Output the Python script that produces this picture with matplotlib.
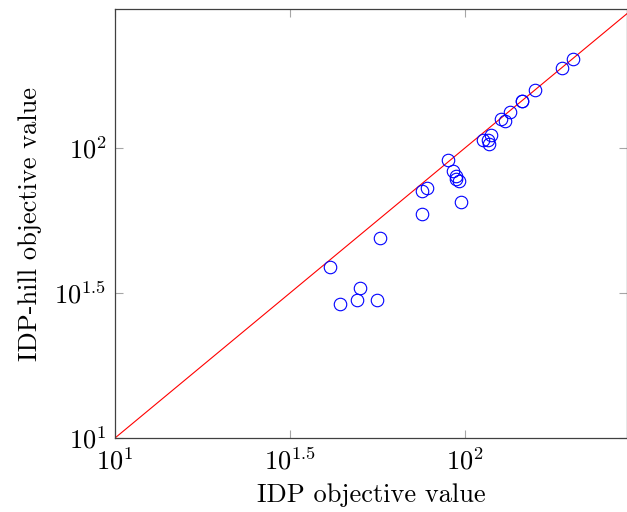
import matplotlib
matplotlib.use('Agg')
import matplotlib.pyplot as plt
import numpy as np

plt.rcParams['font.family'] = 'cmr10'
plt.rcParams['mathtext.fontset'] = 'cm'
plt.rcParams['axes.formatter.use_mathtext'] = True

# IDP objective value vs IDP-hill objective value
idp = [203, 189, 158.8, 145.5, 145.8, 134.5, 126.7, 130, 118.3, 112.7, 116.6, 117.4,
       89.2, 92.2, 94.2, 94.1, 96.3, 75.2, 78, 97.2, 75.2,
       57, 41.1, 50.1, 49.0, 44.0, 56.1]
idp_hill = [203, 189, 158.5, 145.2, 145.6, 133.4, 125.6, 124.2, 110.6, 106.6, 106.6, 103.2,
            90.9, 83.1, 80.3, 78.2, 77.1, 71.1, 73, 65, 59,
            48.8, 38.9, 32.9, 29.9, 28.9, 29.9]

tick_vals = [10, 10 ** 1.5, 100]
tick_labels = [r'$10^{1}$', r'$10^{1.5}$', r'$10^{2}$']

fig = plt.figure(figsize=(6.27, 5.12), dpi=100)
ax = fig.add_axes([0.1834, 0.1445, 0.8166, 0.8379])

# diagonal y = x
diag = np.array([10, 300])
ax.plot(diag, diag, color='red', lw=0.8)

ax.plot(idp, idp_hill, linestyle='none', marker='o', markersize=9,
        markerfacecolor='none', markeredgecolor='blue', markeredgewidth=0.8)

ax.set_xscale('log')
ax.set_yscale('log')
ax.set_xlim(10, 10 ** 2.463)
ax.set_ylim(10, 10 ** 2.479)

ax.set_xticks(tick_vals)
ax.set_xticklabels(tick_labels)
ax.set_yticks(tick_vals)
ax.set_yticklabels(tick_labels)
ax.minorticks_off()
ax.tick_params(which='both', direction='in', length=6, width=0.8, color='0.65',
               top=True, right=True, labelsize=19)
ax.tick_params(axis='x', pad=7)
ax.tick_params(axis='y', pad=6)

for s in ax.spines.values():
    s.set_linewidth(0.9)
    s.set_color('0.25')

ax.set_xlabel('IDP objective value', fontsize=19, labelpad=6)
ax.set_ylabel('IDP-hill objective value', fontsize=19, labelpad=9)

fig.savefig('out.png', dpi=100)
